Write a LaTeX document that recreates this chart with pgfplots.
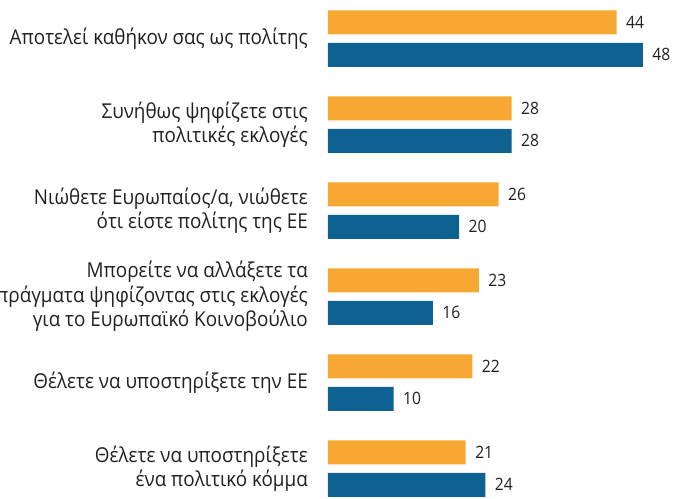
\documentclass[border=0pt]{standalone}
\usepackage{pgfplots}
\pgfplotsset{compat=1.18}
\usepackage{fontspec}
\setmainfont{Open Sans}[FakeStretch=0.92]
\definecolor{borange}{RGB}{246,168,51}
\definecolor{bblue}{RGB}{14,97,145}
\definecolor{txt}{RGB}{35,31,32}
\begin{document}
\begin{tikzpicture}
\begin{axis}[
  scale only axis,
  width=346pt, height=498pt,
  xmin=0, xmax=52.75,
  ymin=-0.448, ymax=5.343,
  y dir=reverse,
  xbar, bar width=24pt,
  axis line style={draw=none},
  xtick=\empty,
  ytick={0,1,2,3,4,5},
  major tick length=0pt,
  yticklabels={
    {Αποτελεί καθήκον σας ως πολίτης},
    {Συνήθως ψηφίζετε στις\\πολιτικές εκλογές},
    {Νιώθετε Ευρωπαίος/α, νιώθετε\\ότι είστε πολίτης της ΕΕ},
    {Μπορείτε να αλλάξετε τα\\πράγματα ψηφίζοντας στις εκλογές\\για το Ευρωπαϊκό Κοινοβούλιο},
    {Θέλετε να υποστηρίξετε την ΕΕ},
    {Θέλετε να υποστηρίξετε\\ένα πολιτικό κόμμα}},
  yticklabel style={align=right, font=\fontsize{20.5}{24.5}\selectfont, text=txt, inner sep=0pt, xshift=-20pt},
  nodes near coords,
  /pgf/number format/assume math mode=true,
  every node near coord/.append style={font=\fontsize{17}{19}\selectfont, text=txt, xshift=6pt, /pgf/number format/assume math mode=true},
  clip=false,
]
\addplot[fill=borange, draw=none, bar shift=16.25pt] coordinates {(44,0) (28,1) (26,2) (23,3) (22,4) (21,5)};
\addplot[fill=bblue, draw=none, bar shift=-16.25pt] coordinates {(48,0) (28,1) (20,2) (16,3) (10,4) (24,5)};
\end{axis}
\pgfresetboundingbox
\useasboundingbox ([xshift=-328pt]current axis.south west) rectangle (current axis.north east);
\end{tikzpicture}
\end{document}
